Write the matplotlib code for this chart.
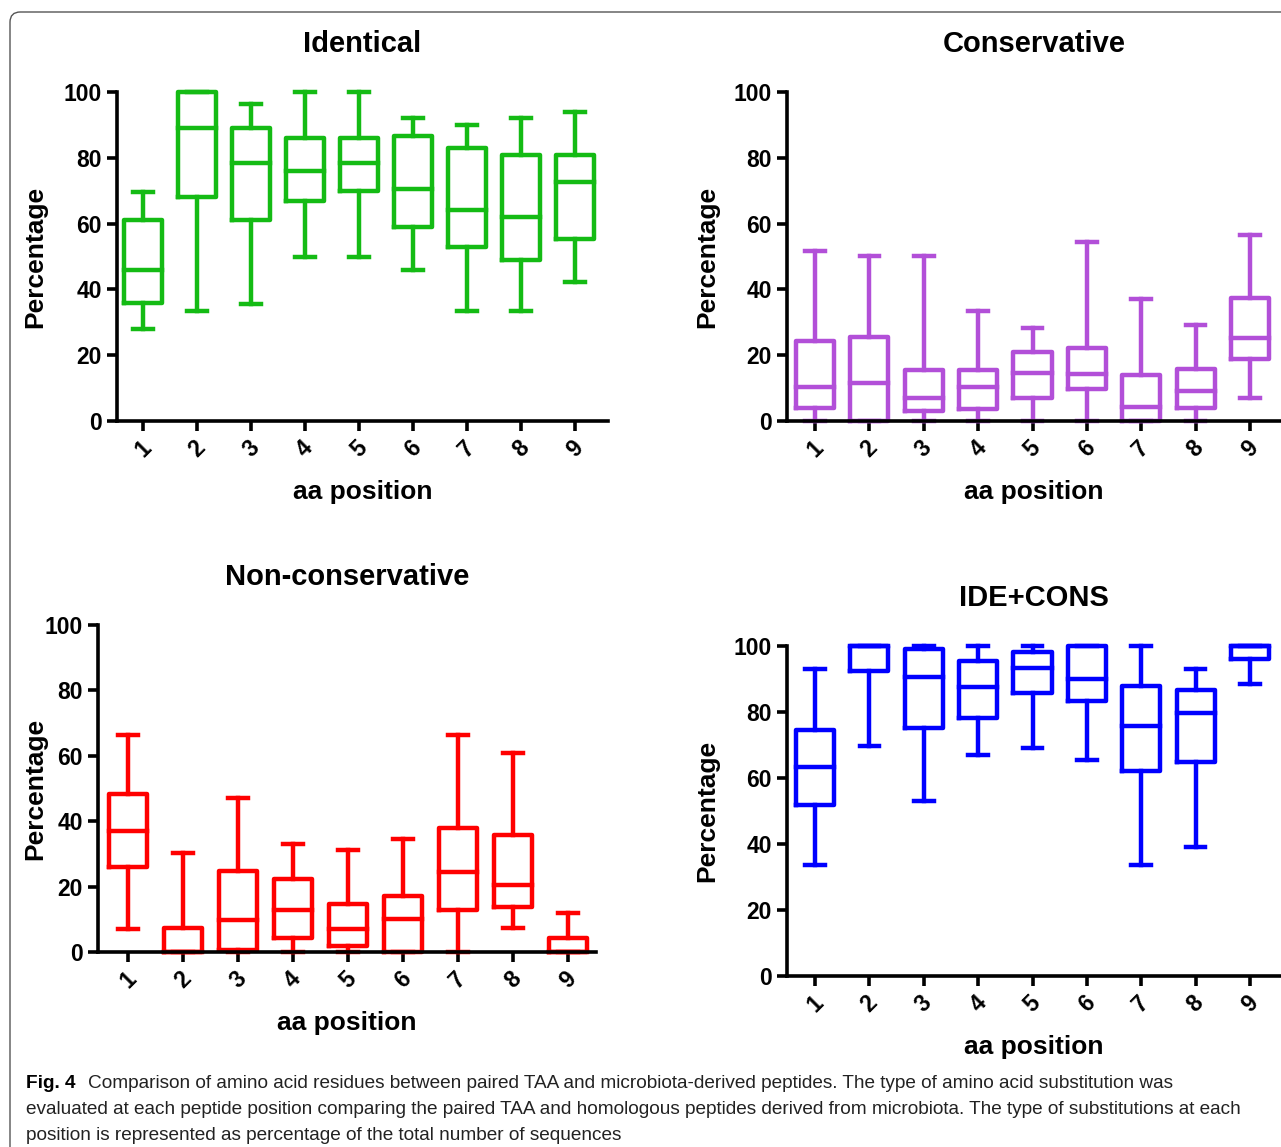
import numpy as np
import matplotlib.pyplot as plt
from matplotlib.patches import FancyBboxPatch

plt.rcParams['font.family'] = ['Liberation Sans', 'DejaVu Sans']

positions = [1, 2, 3, 4, 5, 6, 7, 8, 9]
tick_labels = ['1', '2', '3', '4', '5', '6', '7', '8', '9']

# five-number summaries (min, Q1, median, Q3, max)
ide_min = [28, 33.5, 35.7, 50, 50, 46, 33.5, 33.5, 42.4]
ide_q1 = [36, 68, 61, 67, 70, 59, 53, 49, 55.3]
ide_med = [46, 89, 78.4, 76, 78.4, 70.5, 64, 62, 72.6]
ide_q3 = [61, 100, 89, 86, 86, 86.5, 83, 80.7, 81]
ide_max = [69.5, 100, 96.5, 100, 100, 92, 90, 92, 94]

con_min = [0, 0, 0, 0, 0, 0, 0, 0, 6.9]
con_q1 = [3.9, 0, 3, 3.5, 7.1, 9.6, 0, 3.9, 18.8]
con_med = [10.2, 11.4, 6.9, 10.2, 14.7, 14.2, 4.3, 9.1, 25.1]
con_q3 = [24.4, 25.4, 15.4, 15.4, 21.1, 22.3, 13.9, 15.9, 37.3]
con_max = [51.8, 50.3, 50.3, 33.5, 28.4, 54.3, 37, 29.1, 56.6]

non_min = [7.1, 0, 0, 0, 0, 0, 0, 7.3, 0]
non_q1 = [26, 0, 0.5, 4.4, 1.8, 0, 12.7, 13.7, 0]
non_med = [37, 0, 9.7, 12.7, 7.1, 10, 24.4, 20.4, 0]
non_q3 = [48.4, 7.4, 24.7, 22.4, 14.6, 17, 37.9, 35.8, 4.4]
non_max = [66.5, 30.3, 47.1, 33, 31.3, 34.6, 66.5, 60.9, 12]

idc_min = [33.6, 69.7, 52.9, 67.1, 69.2, 65.4, 33.6, 39, 88.5]
idc_q1 = [51.7, 92.4, 75.3, 78.1, 85.8, 83.2, 62.2, 64.7, 96]
idc_med = [63.4, 100, 90.6, 87.5, 93.2, 90.1, 75.9, 79.7, 100]
idc_q3 = [74.6, 100, 99, 95.4, 98.3, 100, 87.8, 86.8, 100]
idc_max = [92.9, 100, 100, 100, 100, 100, 100, 92.9, 100]

W, H = 1281, 1147
fig = plt.figure(figsize=(W / 100, H / 100), dpi=100)

# rounded frame around the figure (cut off on right and bottom)
frame = FancyBboxPatch((10 / W, -0.05), 1.1, 1 - 12 / H + 0.05,
                       boxstyle='round,pad=0,rounding_size=0.008',
                       mutation_aspect=W / H, transform=fig.transFigure,
                       fill=False, edgecolor='#555555', linewidth=1.0, clip_on=False)
fig.patches.append(frame)


def make_stats(lo, q1, med, q3, hi):
    return [dict(whislo=a, q1=b, med=c, q3=d, whishi=e, fliers=[])
            for a, b, c, d, e in zip(lo, q1, med, q3, hi)]


def panel(rect, xlim, stats, color, title, ylab_x):
    l, b, r, t = rect
    ax = fig.add_axes([l / W, 1 - b / H, (r - l) / W, (b - t) / H])
    lp = dict(color=color, linewidth=3.2, solid_capstyle='projecting')
    arts = ax.bxp(stats, positions=positions, widths=0.7, capwidths=0.36,
                  showfliers=False, boxprops=lp, whiskerprops=lp,
                  capprops=lp, medianprops=lp, manage_ticks=False)
    for k in arts:
        for a in arts[k]:
            a.set_clip_on(False)
    ax.set_ylim(0, 100)
    ax.set_xlim(*xlim)
    ax.set_yticks([0, 20, 40, 60, 80, 100])
    ax.set_xticks(positions)
    ax.set_xticklabels(tick_labels, rotation=45, ha='center')
    for s in ['top', 'right']:
        ax.spines[s].set_visible(False)
    for s in ['left', 'bottom']:
        ax.spines[s].set_linewidth(2.6)
    ax.tick_params(width=2.6, length=7, labelsize=16.5, pad=4)
    for lab in ax.get_xticklabels() + ax.get_yticklabels():
        lab.set_fontweight('bold')
    ax.set_title(title, fontsize=21, fontweight='bold', pad=29)
    ax.set_xlabel('aa position', fontsize=19, fontweight='bold', labelpad=13.5)
    ax.set_ylabel('Percentage', fontsize=19, fontweight='bold')
    ax.yaxis.set_label_coords((ylab_x - l) / (r - l), 0.5)
    return ax


panel((117, 421, 608, 92), (0.52, 9.61),
      make_stats(ide_min, ide_q1, ide_med, ide_q3, ide_max), '#14bb14', 'Identical', 47)
panel((787, 421, 1281, 92), (0.485, 9.57),
      make_stats(con_min, con_q1, con_med, con_q3, con_max), '#b24fd8', 'Conservative', 719)
panel((98, 952, 596, 625), (0.455, 9.51),
      make_stats(non_min, non_q1, non_med, non_q3, non_max), '#ff0000', 'Non-conservative', 47)
panel((787, 976, 1281, 646), (0.485, 9.57),
      make_stats(idc_min, idc_q1, idc_med, idc_q3, idc_max), '#0000ff', 'IDE+CONS', 719)

cap_font = ['Liberation Sans', 'DejaVu Sans']
cap_size = 13.7
lines = [
    'Comparison of amino acid residues between paired TAA and microbiota-derived peptides. '
    'The type of amino acid substitution was',
    'evaluated at each peptide position comparing the paired TAA and homologous peptides '
    'derived from microbiota. The type of substitutions at each',
    'position is represented as percentage of the total number of sequences',
]
fig.text(26 / W, 1 - 1083 / H, 'Fig. 4', fontsize=cap_size, fontweight='bold',
         family=cap_font, va='center', ha='left')
fig.text(88 / W, 1 - 1083 / H, lines[0], fontsize=cap_size, family=cap_font,
         va='center', ha='left', color='#222222')
fig.text(26 / W, 1 - 1109 / H, lines[1], fontsize=cap_size, family=cap_font,
         va='center', ha='left', color='#222222')
fig.text(26 / W, 1 - 1135 / H, lines[2], fontsize=cap_size, family=cap_font,
         va='center', ha='left', color='#222222')

fig.savefig('out.png', dpi=100)
